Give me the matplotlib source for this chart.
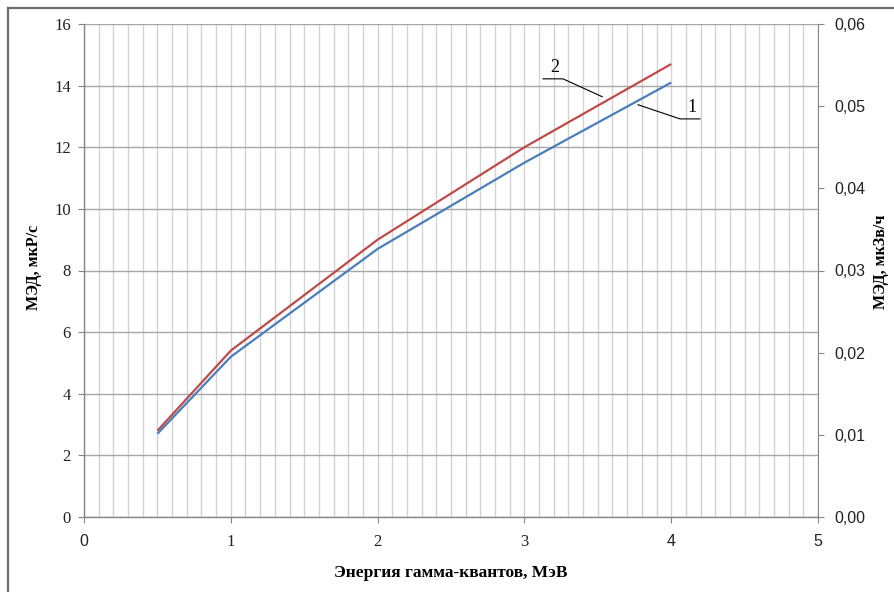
import numpy as np
import matplotlib
matplotlib.use("Agg")
import matplotlib.pyplot as plt
from matplotlib.ticker import FuncFormatter, MultipleLocator
from matplotlib.lines import Line2D

# data
energy = [0.5, 1, 2, 3, 4]
dose_1 = [2.7, 5.2, 8.7, 11.5, 14.1]   # curve 1 (blue)
dose_2 = [2.8, 5.4, 9.0, 12.0, 14.7]   # curve 2 (red)

x_ticks = [0, 1, 2, 3, 4, 5]
left_ticks = [0, 2, 4, 6, 8, 10, 12, 14, 16]
right_ticks = [0.0, 0.01, 0.02, 0.03, 0.04, 0.05, 0.06]

x_label = "Энергия гамма-квантов, МэВ"
left_label = "МЭД, мкР/с"
right_label = "МЭД, мкЗв/ч"

SERIF = "Liberation Serif"
SANS = "Liberation Sans"
BLUE = "#4A7EBB"
RED = "#BE4B48"
AXIS_GREY = "#868686"

W, H = 894, 592
fig = plt.figure(figsize=(W / 100, H / 100), dpi=100)
ax = fig.add_axes([84 / W, (H - 517) / H, (818 - 84) / W, (517 - 24) / H])

ax.plot(energy, dose_1, color=BLUE, lw=1.6, zorder=3, solid_capstyle="butt")
ax.plot(energy, dose_2, color=RED, lw=1.6, zorder=3, solid_capstyle="butt")

ax.set_xlim(0, 5)
ax.set_ylim(0, 16)
ax.set_xticks(x_ticks)
ax.set_yticks(left_ticks)
ax.xaxis.set_minor_locator(MultipleLocator(0.1))

# gridlines: light verticals every 0.1, darker horizontals every 2
ax.grid(True, which="both", axis="x", color="#D3D3D3", lw=1.0)
ax.grid(True, which="major", axis="y", color="#A8A8A8", lw=1.0)
ax.set_axisbelow(True)

for side in ["top", "right"]:
    ax.spines[side].set_visible(False)
for side in ["left", "bottom"]:
    ax.spines[side].set_color(AXIS_GREY)
    ax.spines[side].set_linewidth(1.0)

ax.tick_params(axis="x", which="major", direction="out", length=4.5, color=AXIS_GREY, pad=8)
ax.tick_params(axis="x", which="minor", length=0)
ax.tick_params(axis="y", direction="out", length=4.5, color=AXIS_GREY, pad=5)

ax.set_xticklabels([str(t) for t in x_ticks])
for i, lab in enumerate(ax.get_xticklabels()):
    # the reference mixes fonts on the x axis
    lab.set_fontfamily(SERIF if x_ticks[i] in (1, 2, 3) else SANS)
    lab.set_fontsize(12 if x_ticks[i] in (1, 2, 3) else 11.5)
    lab.set_color("#222222")
ax.set_yticklabels([str(t) for t in left_ticks], fontfamily=SERIF, fontsize=12, color="#222222")

ax2 = ax.twinx()
ax2.set_ylim(0, 0.06)
ax2.set_yticks(right_ticks)
ax2.yaxis.set_major_formatter(FuncFormatter(lambda v, p: f"{v:.2f}".replace(".", ",")))
for side in ["top", "left", "bottom"]:
    ax2.spines[side].set_visible(False)
ax2.spines["right"].set_color(AXIS_GREY)
ax2.tick_params(axis="y", direction="out", length=4.5, color=AXIS_GREY, pad=7,
                labelsize=11.5, labelcolor="#222222")
for lab in ax2.get_yticklabels():
    lab.set_fontfamily(SANS)

fig.text(451 / W, 1 - 573 / H, x_label, ha="center", va="center",
         fontfamily=SERIF, fontweight="bold", fontsize=12.5)
fig.text(34 / W, 1 - 267 / H, left_label, ha="center", va="center", rotation=90,
         fontfamily=SERIF, fontweight="bold", fontsize=11.5)
fig.text(881 / W, 1 - 262 / H, right_label, ha="center", va="center", rotation=90,
         fontfamily=SERIF, fontweight="bold", fontsize=11.5)

# leader labels for the curves
ax.plot([3.127, 3.263, 3.53], [14.22, 14.22, 13.64], color="black", lw=0.8, zorder=4)
ax.text(3.21, 14.6, "2", ha="center", va="center", fontfamily=SERIF, fontsize=13)
ax.plot([4.196, 4.06, 3.774], [12.92, 12.92, 13.38], color="black", lw=0.8, zorder=4)
ax.text(4.14, 13.3, "1", ha="center", va="center", fontfamily=SERIF, fontsize=13)

# outer chart frame (only top and left edges are visible in the crop)
fig.add_artist(Line2D([8 / W, 1], [1 - 8 / H, 1 - 8 / H], transform=fig.transFigure,
                      color="#6E6E6E", lw=1.6))
fig.add_artist(Line2D([8 / W, 8 / W], [0, 1 - 8 / H], transform=fig.transFigure,
                      color="#6E6E6E", lw=1.6))

fig.savefig("out.png", dpi=100)
